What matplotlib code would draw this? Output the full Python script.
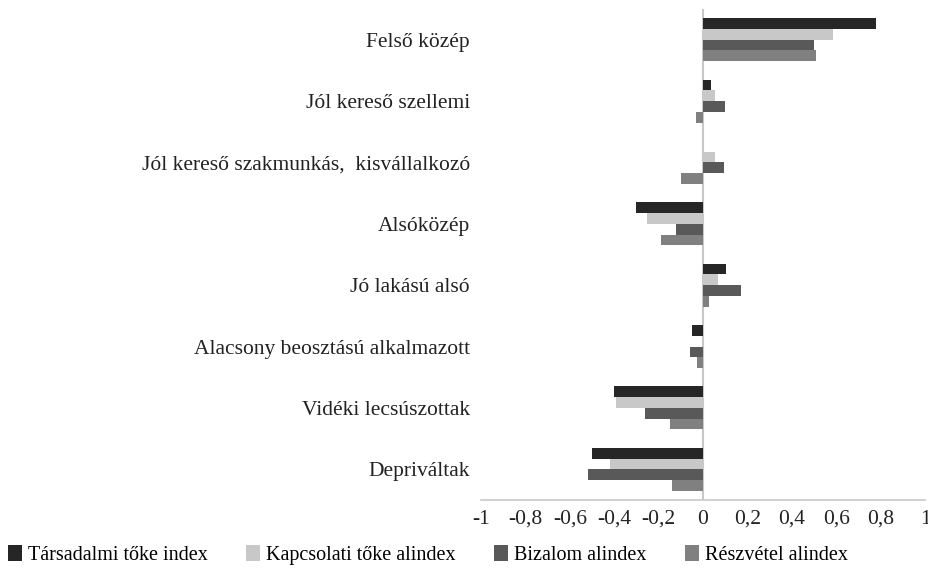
import matplotlib
matplotlib.use("Agg")
import matplotlib.pyplot as plt
import numpy as np
from matplotlib.ticker import FixedLocator, FuncFormatter

categories = ["Felső közép", "Jól kereső szellemi", "Jól kereső szakmunkás,  kisvállalkozó",
              "Alsóközép", "Jó lakású alsó", "Alacsony beosztású alkalmazott",
              "Vidéki lecsúszottak", "Depriváltak"]
series_names = ["Társadalmi tőke index", "Kapcsolati tőke alindex",
                "Bizalom alindex", "Részvétel alindex"]
tarsadalmi = [0.78, 0.035, 0.0, -0.30, 0.105, -0.05, -0.40, -0.50]
kapcsolati = [0.585, 0.053, 0.054, -0.25, 0.066, -0.005, -0.39, -0.42]
bizalom = [0.50, 0.10, 0.095, -0.12, 0.17, -0.06, -0.26, -0.52]
reszvetel = [0.51, -0.03, -0.097, -0.19, 0.028, -0.027, -0.15, -0.14]
xticks = [-1, -0.8, -0.6, -0.4, -0.2, 0, 0.2, 0.4, 0.6, 0.8, 1]

colors = ["#262626", "#c8c8c8", "#595959", "#808080"]
plt.rcParams['font.family'] = ['Liberation Serif', 'DejaVu Serif']

fig = plt.figure(figsize=(9.29, 5.73), dpi=100)
ax = fig.add_axes([481/929, 1-500/573, 444/929, 491/573])

n = len(categories)
y = np.arange(n)
h = 0.175
data = [tarsadalmi, kapcsolati, bizalom, reszvetel]
for i, (vals, c, name) in enumerate(zip(data, colors, series_names)):
    ax.barh(y + (i - 1.5) * h, vals, height=h, color=c, label=name)

ax.set_ylim(n - 0.5, -0.5)
ax.set_xlim(-1, 1)
ax.set_yticks(y)
ax.set_yticklabels(categories, fontsize=15.5, color="#222222")
ax.tick_params(axis='y', length=0, pad=8)
ax.xaxis.set_major_locator(FixedLocator(xticks))
ax.xaxis.set_major_formatter(FuncFormatter(lambda v, p: ("%g" % v).replace(".", ",")))
ax.tick_params(axis='x', length=0, pad=7, labelsize=15.5, labelcolor="#222222")
for s in ["top", "right", "left"]:
    ax.spines[s].set_visible(False)
ax.spines["bottom"].set_color("#c8c8c8")
ax.spines["bottom"].set_linewidth(1.2)
ax.axvline(0, color="#c8c8c8", linewidth=1.5, zorder=0)

fig.legend(loc="lower left", bbox_to_anchor=(0.0, 0.0), ncol=4, frameon=False,
           fontsize=14.5, handlelength=0.7, handleheight=0.9, handletextpad=0.3,
           columnspacing=1.9, borderaxespad=0.1, borderpad=0.3)

fig.savefig("out.png", dpi=100)
